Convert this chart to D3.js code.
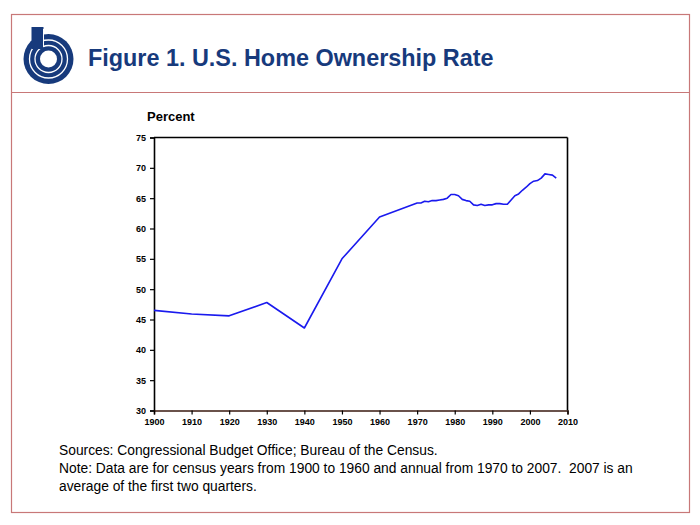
<!DOCTYPE html>
<html><head><meta charset="utf-8">
<script src="https://cdn.jsdelivr.net/npm/d3@7"></script>
<style>body{margin:0;background:#fff}svg{display:block}</style>
</head><body>
<svg id="c" width="700" height="525"></svg>
<script>
const years = [1900,1910,1920,1930,1940,1950,1960,
  1970,1971,1972,1973,1974,1975,1976,1977,1978,1979,
  1980,1981,1982,1983,1984,1985,1986,1987,1988,1989,
  1990,1991,1992,1993,1994,1995,1996,1997,1998,1999,
  2000,2001,2002,2003,2004,2005,2006,2007];
const rates = [46.5,45.9,45.6,47.8,43.6,55.0,61.9,
  64.2,64.2,64.5,64.4,64.6,64.6,64.7,64.8,65.0,65.6,
  65.6,65.4,64.8,64.6,64.5,63.9,63.8,64.0,63.8,63.9,
  63.9,64.1,64.1,64.0,64.0,64.7,65.4,65.7,66.3,66.8,
  67.4,67.8,67.9,68.3,69.0,68.9,68.8,68.3];
const xTicks = [1900,1910,1920,1930,1940,1950,1960,1970,1980,1990,2000,2010];
const yTicks = [30,35,40,45,50,55,60,65,70,75];
const title = "Figure 1. U.S. Home Ownership Rate";
const yLabel = "Percent";
const notes = ["Sources: Congressional Budget Office; Bureau of the Census.",
  "Note: Data are for census years from 1900 to 1960 and annual from 1970 to 2007.  2007 is an",
  "average of the first two quarters."];

const svg = d3.select("#c");
const navy = "#173a7c";

// outer frame
svg.append("rect").attr("x",11.5).attr("y",14.5).attr("width",678).attr("height",498)
  .attr("fill","none").attr("stroke","#c87878").attr("stroke-width",1.2);
svg.append("line").attr("x1",11.5).attr("x2",689.5).attr("y1",92.5).attr("y2",92.5)
  .attr("stroke","#c87878").attr("stroke-width",1.2);

// logo
const lg = svg.append("g").attr("transform","translate(48.5,59)");
lg.append("circle").attr("r",25).attr("fill",navy);
[19,13.5].forEach(r=>lg.append("circle").attr("r",r).attr("fill","none").attr("stroke","#fff").attr("stroke-width",1.3));
lg.append("circle").attr("r",8.5).attr("fill","#fff");
lg.append("rect").attr("x",-17).attr("y",-32).attr("width",12).attr("height",22).attr("fill",navy);
lg.append("line").attr("x1",-5).attr("x2",-5).attr("y1",-30).attr("y2",-12).attr("stroke","#fff").attr("stroke-width",1);

svg.append("text").attr("x",88).attr("y",66).text(title)
  .attr("font-family","Liberation Sans, Arial, sans-serif").attr("font-weight","bold")
  .attr("font-size",23.4).attr("fill",navy);

// plot
const x = d3.scaleLinear().domain([1900,2010]).range([154,567.5]);
const y = d3.scaleLinear().domain([30,75]).range([410.5,137.5]);

svg.append("text").attr("x",147).attr("y",121).text(yLabel)
  .attr("font-family","Liberation Sans, Arial, sans-serif").attr("font-weight","bold").attr("font-size",13);

const tickFont = g=>g.selectAll("text").attr("font-family","Liberation Sans Narrow, Liberation Sans, Arial, sans-serif")
  .attr("font-weight","bold").attr("font-size",9).attr("fill","#000");

// top & right frame
svg.append("line").attr("x1",x(1900)).attr("x2",x(2010)).attr("y1",y(75)).attr("y2",y(75)).attr("stroke","#000").attr("stroke-width",1.6);
svg.append("line").attr("x1",x(2010)).attr("x2",x(2010)).attr("y1",y(75)).attr("y2",y(30)).attr("stroke","#000").attr("stroke-width",1.6);

const ya = svg.append("g").attr("transform",`translate(${x(1900)},0)`)
  .call(d3.axisLeft(y).tickValues(yTicks).tickSize(4).tickPadding(4).tickFormat(d3.format("d")));
ya.select(".domain").attr("stroke-width",1.6);
ya.selectAll(".tick line").attr("stroke-width",1.2);
tickFont(ya);

const xa = svg.append("g").attr("transform",`translate(0,${y(30)})`)
  .call(d3.axisBottom(x).tickValues(xTicks).tickSize(4).tickPadding(4).tickFormat(d3.format("d")));
xa.select(".domain").attr("stroke","#3a1a10").attr("stroke-width",1.6);
xa.selectAll(".tick line").attr("stroke-width",1.2);
tickFont(xa);

const data = years.map((yr,i)=>({yr, v:rates[i]}));
svg.append("path").datum(data)
  .attr("d", d3.line().x(d=>x(d.yr)).y(d=>y(d.v)))
  .attr("fill","none").attr("stroke","#1a1aee").attr("stroke-width",1.6).attr("stroke-linejoin","round");

const nt = svg.append("g").attr("font-family","Liberation Sans, Arial, sans-serif").attr("font-size",13.8);
notes.forEach((t,i)=>nt.append("text").attr("x",59).attr("y",455+i*18).attr("xml:space","preserve").text(t));
</script>
</body></html>
